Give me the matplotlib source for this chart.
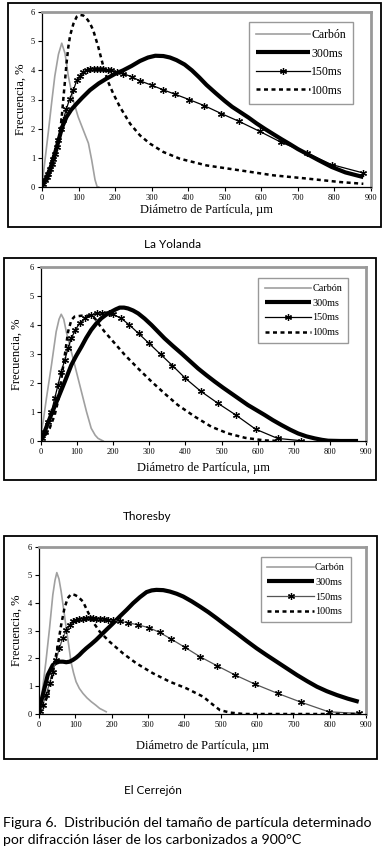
import matplotlib.pyplot as plt
from matplotlib.patches import Rectangle

# ---- La Yolanda ----
yol_carbon_x = [0, 2, 8, 17, 26, 35, 45, 54, 63, 72, 86, 99, 113, 127, 136, 145, 151, 155]
yol_carbon_y = [0, 0.25, 0.9, 1.85, 2.85, 3.8, 4.55, 4.93, 4.58, 3.8, 2.95, 2.4, 1.95, 1.5, 0.92, 0.25, 0, 0]
yol_300_x = [0, 13, 25, 40, 55, 67, 80, 95, 110, 131, 155, 177, 200, 222, 245, 268, 290, 310, 332,
             350, 368, 390, 410, 430, 450, 475, 500, 520, 542, 565, 587, 610, 633, 655, 678, 700,
             724, 755, 792, 830, 879]
yol_300_y = [0.02, 0.34, 0.72, 1.35, 2.05, 2.4, 2.65, 2.86, 3.06, 3.32, 3.55, 3.72, 3.88, 4.0, 4.15,
             4.32, 4.44, 4.5, 4.49, 4.44, 4.35, 4.2, 4.0, 3.76, 3.5, 3.22, 2.95, 2.75, 2.57, 2.38,
             2.18, 1.99, 1.81, 1.64, 1.47, 1.3, 1.14, 0.93, 0.69, 0.5, 0.34]
yol_150_x = [3, 8, 13, 17, 22, 26, 31, 35, 40, 45, 51, 58, 67, 76, 86, 95, 104, 113, 122, 131, 141,
             150, 159, 168, 181, 190, 205, 222, 245, 268, 300, 330, 364, 402, 444, 490, 539, 595,
             653, 724, 792, 879]
yol_150_y = [0.1, 0.23, 0.35, 0.46, 0.62, 0.8, 0.97, 1.14, 1.38, 1.6, 2.0, 2.29, 2.69, 3.03, 3.32,
             3.66, 3.82, 3.95, 4.0, 4.04, 4.06, 4.06, 4.05, 4.04, 4.0, 4.0, 3.95, 3.89, 3.78, 3.64,
             3.49, 3.34, 3.18, 3.0, 2.79, 2.52, 2.25, 1.91, 1.54, 1.17, 0.77, 0.48]
yol_100_x = [0, 10, 17, 24, 31, 40, 45, 49, 54, 58, 63, 67, 72, 77, 86, 95, 104, 113, 122, 131, 140,
             154, 168, 181, 195, 213, 241, 268, 295, 332, 377, 450, 542, 633, 724, 815, 879]
yol_100_y = [0, 0.12, 0.34, 0.55, 0.8, 1.26, 1.55, 1.83, 2.4, 2.97, 3.66, 4.23, 4.8, 5.2, 5.6, 5.84,
             5.9, 5.88, 5.78, 5.62, 5.38, 4.8, 4.12, 3.6, 3.2, 2.75, 2.17, 1.77, 1.49, 1.2, 0.97,
             0.74, 0.57, 0.4, 0.29, 0.17, 0.11]

# ---- Thoresby ----
tho_carbon_x = [0, 2, 6, 15, 29, 42, 50, 56, 63, 70, 84, 98, 112, 126, 139, 150, 158, 172]
tho_carbon_y = [0, 0.4, 0.67, 1.47, 2.62, 3.77, 4.2, 4.37, 4.2, 3.77, 3.08, 2.39, 1.7, 1.01, 0.44, 0.2, 0.09, 0]
tho_300_x = [0, 10, 28, 47, 66, 84, 98, 112, 125, 139, 153, 167, 181, 195, 207, 218, 230, 241, 255,
             269, 287, 306, 324, 342, 365, 389, 412, 435, 458, 481, 504, 527, 550, 573, 596, 619,
             642, 666, 690, 712, 735, 758, 778, 795, 830, 878]
tho_300_y = [0, 0.32, 0.9, 1.47, 2.05, 2.62, 2.95, 3.25, 3.55, 3.83, 4.05, 4.23, 4.36, 4.46, 4.54,
             4.6, 4.6, 4.57, 4.5, 4.4, 4.22, 4.0, 3.77, 3.54, 3.28, 3.02, 2.76, 2.5, 2.27, 2.05,
             1.84, 1.64, 1.44, 1.24, 1.07, 0.9, 0.72, 0.55, 0.39, 0.26, 0.16, 0.09, 0.04, 0.01, 0, 0]
tho_150_x = [3, 10, 19, 29, 38, 47, 56, 66, 75, 84, 95, 107, 121, 139, 155, 170, 187, 199, 222, 245,
             270, 299, 331, 364, 400, 442, 490, 539, 594, 655, 721]
tho_150_y = [0.1, 0.32, 0.67, 1.01, 1.47, 1.93, 2.39, 2.8, 3.2, 3.54, 3.83, 4.06, 4.23, 4.34, 4.4,
             4.42, 4.42, 4.37, 4.23, 4.0, 3.71, 3.37, 2.99, 2.6, 2.16, 1.72, 1.3, 0.9, 0.41, 0.09, 0.01]
tho_100_x = [0, 10, 24, 38, 49, 58, 66, 75, 84, 93, 112, 130, 149, 162, 176, 204, 232, 269, 306, 342,
             379, 426, 472, 518, 565, 619, 666]
tho_100_y = [0, 0.15, 0.44, 0.9, 1.47, 2.28, 2.97, 3.77, 4.17, 4.29, 4.32, 4.32, 4.23, 4.0, 3.77,
             3.37, 2.97, 2.5, 2.05, 1.64, 1.24, 0.84, 0.49, 0.26, 0.11, 0.02, 0]

# ---- El Cerrejon ----
cer_carbon_x = [0, 3, 10, 19, 29, 38, 44, 49, 55, 61, 68, 75, 82, 88, 95, 102, 111, 121, 132, 144,
                156, 167, 185]
cer_carbon_y = [0, 0.2, 0.92, 1.88, 3.08, 4.28, 4.8, 5.08, 4.85, 4.4, 3.75, 3.08, 2.45, 1.88, 1.48,
                1.16, 0.92, 0.74, 0.58, 0.44, 0.32, 0.2, 0.08]
cer_300_x = [0, 6, 15, 24, 38, 47, 56, 66, 75, 84, 93, 102, 111, 120, 130, 143, 157, 171, 185, 204,
             222, 241, 259, 278, 296, 310, 323, 342, 360, 379, 397, 420, 443, 466, 489, 516, 544,
             571, 599, 626, 654, 682, 710, 738, 765, 792, 820, 850, 880]
cer_300_y = [0, 0.44, 0.92, 1.4, 1.76, 1.84, 1.88, 1.88, 1.86, 1.88, 1.94, 2.02, 2.12, 2.24, 2.36,
             2.5, 2.66, 2.84, 3.02, 3.26, 3.5, 3.74, 3.98, 4.2, 4.38, 4.44, 4.46, 4.45, 4.4, 4.32,
             4.22, 4.05, 3.86, 3.66, 3.44, 3.17, 2.9, 2.63, 2.36, 2.12, 1.88, 1.64, 1.4, 1.18,
             0.98, 0.82, 0.68, 0.55, 0.44]
cer_150_x = [3, 10, 19, 29, 38, 47, 56, 65, 75, 84, 93, 102, 111, 120, 130, 139, 148, 157, 167, 178,
             190, 205, 222, 245, 273, 303, 332, 364, 401, 443, 489, 540, 595, 657, 722, 797, 880]
cer_150_y = [0.1, 0.32, 0.68, 1.1, 1.52, 1.94, 2.36, 2.72, 3.02, 3.2, 3.35, 3.38, 3.42, 3.43, 3.44,
             3.44, 3.44, 3.43, 3.42, 3.4, 3.38, 3.36, 3.33, 3.28, 3.2, 3.1, 2.93, 2.69, 2.4, 2.06,
             1.74, 1.4, 1.07, 0.74, 0.42, 0.08, 0.02]
cer_100_x = [0, 10, 24, 33, 42, 52, 61, 70, 79, 88, 98, 107, 121, 134, 148, 167, 194, 231, 268, 314,
             360, 406, 452, 480, 498, 526, 563, 600, 650, 700, 750, 800, 880]
cer_100_y = [0, 0.2, 0.68, 1.16, 1.76, 2.48, 3.2, 3.8, 4.16, 4.3, 4.28, 4.22, 4.04, 3.68, 3.32, 2.96,
             2.6, 2.18, 1.82, 1.46, 1.16, 0.92, 0.62, 0.32, 0.14, 0.05, 0, 0, 0, 0, 0, 0, 0]

labels = ["Carbón", "300ms", "150ms", "100ms"]
names = ["La Yolanda", "Thoresby", "El Cerrejón"]

W, H = 384, 850
fig = plt.figure(figsize=(W / 100, H / 100), dpi=100)
serif = "Liberation Serif"

# pixel layout: (axes left, right, top, bottom), outer box, legend anchor, label offsets
panels = [
    dict(ax=(42, 371, 12, 187), box=(8, 381, 3, 227), leg=(0.945, 0.943), legfs=8.5,
         ylab=-0.046, xlab=-0.10, name_xy=(173, 245), l150='black',
         data=(yol_carbon_x, yol_carbon_y, yol_300_x, yol_300_y, yol_150_x, yol_150_y, yol_100_x, yol_100_y)),
    dict(ax=(41, 366, 267, 441), box=(4, 376, 258, 480), leg=(0.945, 0.937), legfs=7.3,
         ylab=-0.055, xlab=-0.12, name_xy=(147, 517), l150='black',
         data=(tho_carbon_x, tho_carbon_y, tho_300_x, tho_300_y, tho_150_x, tho_150_y, tho_100_x, tho_100_y)),
    dict(ax=(39, 366, 547, 714), box=(4, 377, 536, 759), leg=(0.954, 0.94), legfs=7.3,
         ylab=-0.049, xlab=-0.155, name_xy=(153, 791), l150='#555555',
         data=(cer_carbon_x, cer_carbon_y, cer_300_x, cer_300_y, cer_150_x, cer_150_y, cer_100_x, cer_100_y)),
]

for p, name in zip(panels, names):
    l, r, t, b = p['ax']
    ax = fig.add_axes([l / W, 1 - b / H, (r - l) / W, (b - t) / H])
    cx, cy, x3, y3, x15, y15, x1, y1 = p['data']
    ax.plot(cx, cy, color='#a0a0a0', lw=1.2, label=labels[0])
    ax.plot(x3, y3, color='black', lw=3.0, solid_capstyle='butt', label=labels[1])
    ax.plot(x15, y15, color=p['l150'], lw=0.9, marker=(6, 2, 0), ms=5, mec='black',
            mew=0.9, label=labels[2])
    ax.plot(x1, y1, color='black', lw=1.8, dashes=(1.6, 1.4), label=labels[3])

    ax.set_xlim(0, 900)
    ax.set_ylim(0, 6)
    ax.set_xticks(range(0, 901, 100))
    ax.set_yticks(range(0, 7))
    ax.tick_params(direction='out', length=3, width=0.8, labelsize=6, pad=2)
    for lab in ax.get_xticklabels() + ax.get_yticklabels():
        lab.set_family(serif)
    for s in ['top', 'right']:
        ax.spines[s].set_color('#999999')
        ax.spines[s].set_linewidth(2)
    for s in ['left', 'bottom']:
        ax.spines[s].set_linewidth(0.9)

    ax.set_ylabel("Frecuencia, %", family=serif, fontsize=9)
    ax.yaxis.set_label_coords(p['ylab'], 0.5)
    ax.set_xlabel("Diámetro de Partícula, µm", family=serif, fontsize=9)
    ax.xaxis.set_label_coords(0.5, p['xlab'])

    leg = ax.legend(loc='upper right', bbox_to_anchor=p['leg'], borderaxespad=0,
                    prop={'family': serif, 'size': p['legfs']}, handlelength=4.6,
                    handletextpad=0.1, labelspacing=0.55, borderpad=0.6, numpoints=1,
                    fancybox=False, framealpha=1, edgecolor='#999999')
    leg.get_frame().set_linewidth(1.0)

    bl, br, bt, bb = p['box']
    fig.patches.append(Rectangle((bl / W, 1 - bb / H), (br - bl) / W, (bb - bt) / H,
                                 transform=fig.transFigure, fill=False, ec='black', lw=1.3))
    nx, ny = p['name_xy']
    fig.text(nx / W, 1 - ny / H, name, family='Lato', fontsize=8.5, ha='center', va='center')

fig.text(3 / W, 1 - 823 / H, "Figura 6.  Distribución del tamaño de partícula determinado",
         family='Lato', fontsize=10.2, ha='left', va='center')
fig.text(3 / W, 1 - 840 / H, "por difracción láser de los carbonizados a 900°C",
         family='Lato', fontsize=10.2, ha='left', va='center')

fig.savefig("out.png", dpi=100)
